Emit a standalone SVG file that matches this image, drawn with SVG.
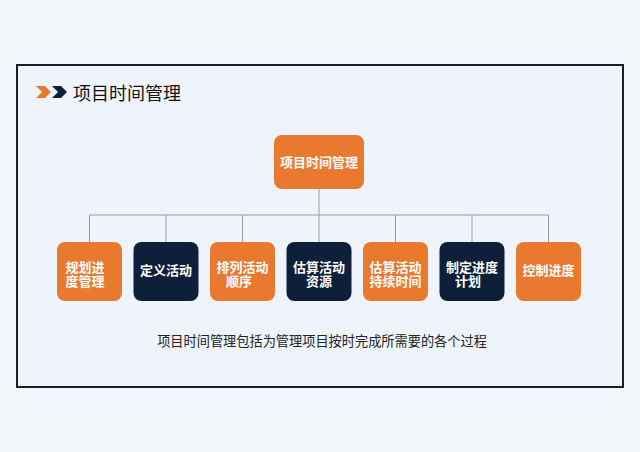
<svg xmlns="http://www.w3.org/2000/svg" width="640" height="452" viewBox="0 0 640 452">
<style>
.o{fill:#E9792F}
.n{fill:#0E1F3A}
.t{font-family:"Noto Sans CJK SC","Liberation Sans",sans-serif;font-size:13px;fill:#ffffff;text-anchor:middle;font-weight:bold}
.c{stroke:#9a9a9a;stroke-width:1;fill:none}
</style>
<rect x="0" y="0" width="640" height="452" fill="#F3F6FB"/>
<rect x="17" y="65" width="606" height="322" fill="#EFF4FC" stroke="#1a1c28" stroke-width="2"/>
<g id="title">
<polygon points="36,86 45,86 51,92 45,98 36,98 42,92" fill="#E9792F"/>
<polygon points="52,86 61,86 67,92 61,98 52,98 58,92" fill="#0E1F3A"/>
<text x="73" y="100" font-family="Noto Sans CJK SC,Liberation Sans,sans-serif" font-size="18" fill="#111">项目时间管理</text>
</g>
<g id="connectors" class="c">
<line x1="319" y1="189" x2="319" y2="215"/>
<line x1="89.5" y1="215" x2="548.5" y2="215"/>
<line x1="89.5" y1="215" x2="89.5" y2="242"/>
<line x1="166" y1="215" x2="166" y2="242"/>
<line x1="242.5" y1="215" x2="242.5" y2="242"/>
<line x1="319" y1="215" x2="319" y2="242"/>
<line x1="395.5" y1="215" x2="395.5" y2="242"/>
<line x1="472" y1="215" x2="472" y2="242"/>
<line x1="548.5" y1="215" x2="548.5" y2="242"/>
</g>
<g id="root">
<rect class="o" x="274" y="135" width="90" height="54" rx="8"/>
<text class="t" x="319" y="167">项目时间管理</text>
</g>
<g id="n1">
<rect class="o" x="57" y="242" width="65" height="59" rx="8"/>
<text class="t"><tspan x="85" y="271.5">规划进</tspan><tspan x="85" y="285.5">度管理</tspan></text>
</g>
<g id="n2">
<rect class="n" x="133.5" y="242" width="65" height="59" rx="8"/>
<text class="t" x="166" y="275">定义活动</text>
</g>
<g id="n3">
<rect class="o" x="210" y="242" width="65" height="59" rx="8"/>
<text class="t"><tspan x="242.5" y="271.5">排列活动</tspan><tspan x="239" y="285.5">顺序</tspan></text>
</g>
<g id="n4">
<rect class="n" x="286.5" y="242" width="65" height="59" rx="8"/>
<text class="t"><tspan x="319" y="271.5">估算活动</tspan><tspan x="319" y="285.5">资源</tspan></text>
</g>
<g id="n5">
<rect class="o" x="363" y="242" width="65" height="59" rx="8"/>
<text class="t"><tspan x="395.5" y="271.5">估算活动</tspan><tspan x="395.5" y="285.5">持续时间</tspan></text>
</g>
<g id="n6">
<rect class="n" x="439.5" y="242" width="65" height="59" rx="8"/>
<text class="t"><tspan x="472" y="271.5">制定进度</tspan><tspan x="468" y="285.5">计划</tspan></text>
</g>
<g id="n7">
<rect class="o" x="516" y="242" width="65" height="59" rx="8"/>
<text class="t" x="548.5" y="275">控制进度</text>
</g>
<text x="322" y="346" font-family="Noto Sans CJK SC,Liberation Sans,sans-serif" font-size="13.2" fill="#222" text-anchor="middle">项目时间管理包括为管理项目按时完成所需要的各个过程</text>
</svg>
